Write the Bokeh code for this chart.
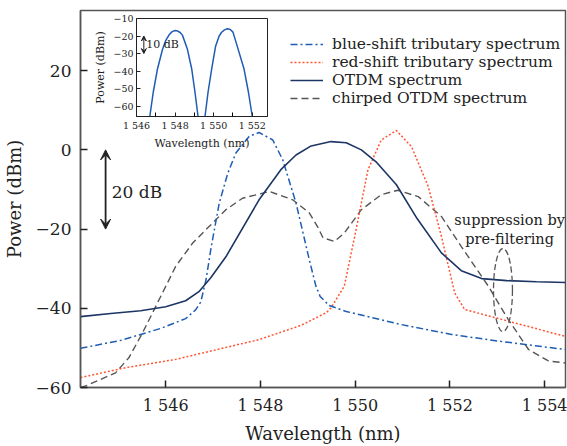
from bokeh.plotting import figure
from bokeh.models import Range1d, FixedTicker, Legend, LegendItem, Arrow, VeeHead, Label
from bokeh.layouts import column
from bokeh.embed import file_html
from bokeh.resources import INLINE

FONT = "DejaVu Serif"

# ---------------- main chart data (wavelength nm, power dBm) ----------------
otdm_x = [1544.2, 1544.84, 1545.47, 1546.0, 1546.42, 1546.70, 1546.95, 1547.27, 1547.97, 1548.43,
          1548.75, 1549.07, 1549.49, 1549.81, 1550.13, 1550.44, 1550.87, 1551.31, 1551.82, 1552.24,
          1552.67, 1553.20, 1553.83, 1554.44]
otdm_y = [-42.1, -41.3, -40.6, -39.6, -38.1, -35.8, -32.3, -27.0, -12.6, -5.0,
          -1.3, 1.0, 2.1, 1.8, 0.0, -3.0, -8.8, -17.4, -26.0, -30.5,
          -32.5, -33.0, -33.3, -33.5]

blue_x = [1544.2, 1545.05, 1545.89, 1546.42, 1546.63, 1546.74, 1546.85, 1546.96, 1547.13, 1547.31,
          1547.48, 1547.76, 1547.97, 1548.26, 1548.47, 1548.75, 1549.03, 1549.17, 1549.26, 1549.45,
          1549.81, 1550.97, 1552.03, 1553.09, 1554.44]
blue_y = [-50.1, -48.1, -45.1, -42.6, -40.4, -38.4, -32.8, -24.5, -13.4, -5.9,
          -0.8, 3.4, 4.4, 2.5, -2.5, -13.4, -27.7, -34.4, -37.0, -39.3,
          -40.8, -44.1, -46.6, -48.4, -50.4]

red_x = [1544.2, 1545.15, 1546.21, 1547.97, 1548.86, 1549.39, 1549.49, 1549.77, 1549.99, 1550.27,
         1550.55, 1550.87, 1551.19, 1551.54, 1551.82, 1552.10, 1552.31, 1553.09, 1554.44]
red_y = [-57.5, -55.0, -52.9, -47.9, -44.3, -41.1, -39.9, -34.4, -21.8, -5.0,
         2.5, 4.9, 0.8, -9.2, -21.8, -36.1, -40.3, -42.8, -47.1]

chirp_x = [1544.2, 1544.31, 1544.94, 1545.22, 1545.51, 1545.79, 1546.21, 1546.57, 1546.92, 1547.27,
           1547.62, 1548.19, 1548.68, 1549.03, 1549.21, 1549.32, 1549.56, 1549.77, 1550.13, 1550.55,
           1550.90, 1551.33, 1551.82, 1552.24, 1552.81, 1553.23, 1553.66, 1554.08, 1554.44]
chirp_y = [-60.0, -59.6, -56.3, -52.5, -46.2, -39.5, -29.4, -23.5, -19.3, -15.1,
           -12.2, -10.5, -12.6, -15.9, -19.5, -22.2, -23.1, -21.0, -15.1, -11.3,
           -10.2, -11.8, -16.8, -24.4, -34.4, -42.8, -50.4, -53.3, -53.8]

x_ticks = [1546, 1548, 1550, 1552, 1554]
x_tick_labels = ["1 546", "1 548", "1 550", "1 552", "1 554"]
y_ticks = [-60, -40, -20, 0, 20]
y_tick_labels = ["\u221260", "\u221240", "\u221220", "0", "20"]

series_labels = ["blue-shift tributary spectrum", "red-shift tributary spectrum",
                 "OTDM spectrum", "chirped OTDM spectrum"]

# annotations (data units)
ellipse_center = (1553.12, -35.4)
ellipse_size = (0.40, 21.0)
arrow_20db = (1544.73, 0.0, -20.0)

# ---------------- inset data ----------------
ins_left_x = [1546.69, 1546.87, 1547.09, 1547.35, 1547.52, 1547.69, 1547.85, 1548.0, 1548.12, 1548.26,
              1548.38, 1548.64, 1548.86, 1549.03, 1549.19]
ins_left_y = [-66.0, -52.0, -38.7, -27.6, -22.5, -19.3, -17.5, -16.9, -17.1, -18.0,
              -19.5, -27.6, -38.7, -52.0, -66.0]
ins_right_x = [1549.55, 1549.71, 1549.9, 1550.1, 1550.27, 1550.4, 1550.56, 1550.71, 1550.86, 1551.0,
               1551.22, 1551.57, 1551.8, 1552.0]
ins_right_y = [-66.0, -52.0, -38.7, -25.8, -20.4, -18.0, -16.5, -15.9, -16.3, -17.8,
               -25.8, -38.7, -52.0, -66.0]
ins_x_ticks = [1546, 1548, 1550, 1552]
ins_x_tick_labels = ["1 546", "1 548", "1 550", "1 552"]
ins_y_ticks = [-60, -50, -40, -30, -20, -10]
ins_y_tick_labels = ["\u221260", "\u221250", "\u221240", "\u221230", "\u221220", "\u221210"]

AX = "#555555"
TXT = "#222222"

p = figure(width=567, height=446, x_range=Range1d(1544.2, 1554.44), y_range=Range1d(-60, 35.2),
           output_backend="svg", toolbar_location=None,
           min_border_left=80, min_border_right=2, min_border_top=10, min_border_bottom=58)
p.grid.visible = False
p.outline_line_color = AX
p.outline_line_width = 1.5

for ax in (p.xaxis[0], p.yaxis[0]):
    ax.axis_line_color = AX
    ax.axis_line_width = 1.5
    ax.major_tick_in = 7
    ax.major_tick_out = 0
    ax.minor_tick_in = 0
    ax.minor_tick_out = 0
    ax.major_tick_line_color = "#222222"
    ax.major_tick_line_width = 1.5
    ax.major_label_text_font = FONT
    ax.major_label_text_color = TXT
    ax.axis_label_text_font = FONT
    ax.axis_label_text_font_style = "normal"
    ax.axis_label_text_color = TXT

p.xaxis.ticker = FixedTicker(ticks=x_ticks)
p.xaxis.major_label_overrides = dict(zip(x_ticks, x_tick_labels))
p.yaxis.ticker = FixedTicker(ticks=y_ticks)
p.yaxis.major_label_overrides = dict(zip(y_ticks, y_tick_labels))
p.xaxis.major_label_text_font_size = "16px"
p.yaxis.major_label_text_font_size = "17px"
p.xaxis.axis_label = "Wavelength (nm)"
p.yaxis.axis_label = "Power (dBm)"
p.xaxis.axis_label_text_font_size = "18px"
p.yaxis.axis_label_text_font_size = "18px"
p.xaxis.major_label_standoff = 8
p.xaxis.axis_label_standoff = 5
p.yaxis.major_label_standoff = 9
p.yaxis.axis_label_standoff = 8

r_chirp = p.line(chirp_x, chirp_y, line_color="#555555", line_width=1.4, line_dash="7 4")
r_red = p.line(red_x, red_y, line_color="#ff5533", line_width=1.5, line_dash="2 2")
r_blue = p.line(blue_x, blue_y, line_color="#1f5cb4", line_width=1.5, line_dash="7 3 2 3")
r_otdm = p.line(otdm_x, otdm_y, line_color="#1c3564", line_width=1.6)

p.ellipse(x=[ellipse_center[0]], y=[ellipse_center[1]], width=[ellipse_size[0]], height=[ellipse_size[1]],
          fill_alpha=0, line_color="#555555", line_width=1.3, line_dash="6 3")

p.add_layout(Arrow(start=VeeHead(size=10, fill_color="#222222", line_color="#222222"),
                   end=VeeHead(size=10, fill_color="#222222", line_color="#222222"),
                   x_start=arrow_20db[0], y_start=arrow_20db[1], x_end=arrow_20db[0], y_end=arrow_20db[2],
                   line_color="#222222", line_width=1.8))
p.add_layout(Label(x=1544.86, y=-10.6, text="20 dB", text_font=FONT, text_font_size="17px",
                   text_color=TXT, text_baseline="middle"))
p.add_layout(Label(x=1553.26, y=-17.7, text="suppression by", text_font=FONT, text_font_size="14.5px",
                   text_color=TXT, text_baseline="middle", text_align="center"))
p.add_layout(Label(x=1553.26, y=-22.4, text="pre-filtering", text_font=FONT, text_font_size="14.5px",
                   text_color=TXT, text_baseline="middle", text_align="center"))

legend = Legend(items=[LegendItem(label=series_labels[0], renderers=[r_blue]),
                       LegendItem(label=series_labels[1], renderers=[r_red]),
                       LegendItem(label=series_labels[2], renderers=[r_otdm]),
                       LegendItem(label=series_labels[3], renderers=[r_chirp])],
                location=(210, 280), padding=0, spacing=0, margin=0,
                border_line_alpha=0, background_fill_alpha=0,
                label_text_font=FONT, label_text_font_size="15.5px", label_text_color=TXT,
                glyph_width=33, glyph_height=18, label_height=18, label_standoff=9)
p.add_layout(legend)

# ---------------- inset ----------------
# column() aligns the frames' side borders, so the inset keeps the same
# left/right borders as the main figure and is shifted with a margin.
ins = figure(width=213, height=140, x_range=Range1d(1546, 1552.79), y_range=Range1d(-66, -10),
             output_backend="svg", toolbar_location=None,
             min_border_left=80, min_border_right=2, min_border_top=6, min_border_bottom=33)
ins.margin = (-434, 0, 0, 56)
ins.background_fill_alpha = 0
ins.border_fill_alpha = 0
ins.grid.visible = False
ins.outline_line_color = "#222222"
ins.outline_line_width = 1
for ax in (ins.xaxis[0], ins.yaxis[0]):
    ax.axis_line_color = "#222222"
    ax.axis_line_width = 1
    ax.major_tick_in = 4
    ax.major_tick_out = 0
    ax.minor_tick_in = 0
    ax.minor_tick_out = 0
    ax.major_tick_line_color = "#222222"
    ax.major_label_text_font = FONT
    ax.major_label_text_font_size = "9.5px"
    ax.major_label_text_color = TXT
    ax.axis_label_text_font = FONT
    ax.axis_label_text_font_size = "11px"
    ax.axis_label_text_font_style = "normal"
    ax.axis_label_text_color = TXT
    ax.major_label_standoff = 3
    ax.axis_label_standoff = 3
ins.xaxis.ticker = FixedTicker(ticks=ins_x_ticks, minor_ticks=[1547, 1549, 1551])
ins.xaxis.minor_tick_in = 4
ins.xaxis.major_label_overrides = dict(zip(ins_x_ticks, ins_x_tick_labels))
ins.yaxis.ticker = FixedTicker(ticks=ins_y_ticks)
ins.yaxis.major_label_overrides = dict(zip(ins_y_ticks, ins_y_tick_labels))
ins.xaxis.axis_label = "Wavelength (nm)"
ins.yaxis.axis_label = "Power (dBm)"

ins.line(ins_left_x, ins_left_y, line_color="#1f5cb4", line_width=1.5)
ins.line(ins_right_x, ins_right_y, line_color="#1f5cb4", line_width=1.5)
ins.add_layout(Arrow(start=VeeHead(size=5, fill_color="#222222", line_color="#222222"),
                     end=VeeHead(size=5, fill_color="#222222", line_color="#222222"),
                     x_start=1546.38, y_start=-20, x_end=1546.38, y_end=-30,
                     line_color="#222222", line_width=1))
ins.add_layout(Label(x=1546.5, y=-25, text="10 dB", text_font=FONT, text_font_size="11px",
                     text_color=TXT, text_baseline="middle"))

layout = column(p, ins, spacing=0)
open("out.html", "w").write(file_html(layout, INLINE))
